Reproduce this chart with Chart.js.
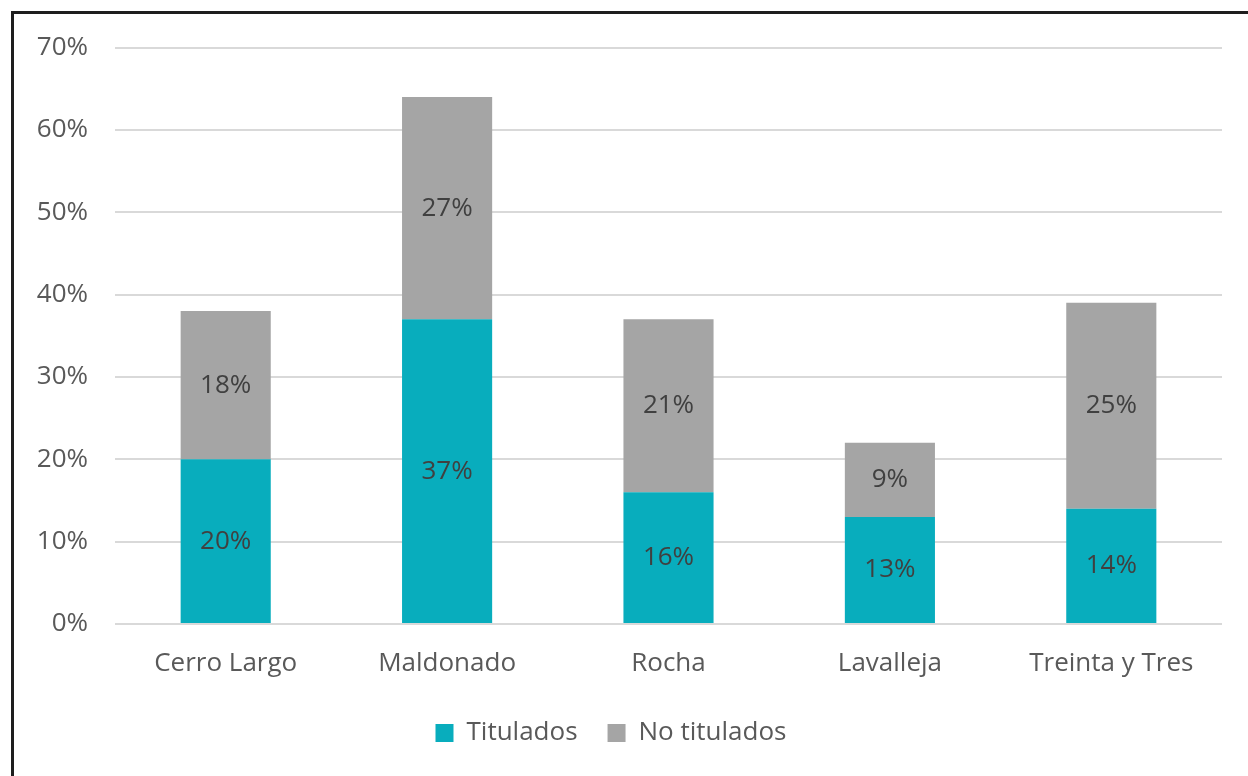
<!DOCTYPE html>
<html>
<head>
<meta charset="utf-8">
<script src="https://cdn.jsdelivr.net/npm/chart.js@4/dist/chart.umd.min.js"></script>
<style>
  html, body { margin: 0; padding: 0; background: #fff; overflow: hidden; }
  #wrap { position: relative; width: 1248px; height: 776px; }
  #frame { position: absolute; left: 11px; top: 11px; width: 1300px; height: 800px;
           border: 3px solid #1e1e1e; box-sizing: border-box; pointer-events: none; }
  canvas { position: absolute; left: 0; top: 5px; }
</style>
</head>
<body>
<div id="wrap">
  <canvas id="chart" width="1248" height="771"></canvas>
  <div id="frame"></div>
</div>
<script>
const categories = ['Cerro Largo', 'Maldonado', 'Rocha', 'Lavalleja', 'Treinta y Tres'];
const titulados = [20, 37, 16, 13, 14];
const noTitulados = [18, 27, 21, 9, 25];
const seriesNames = ['Titulados', 'No titulados'];

const FONT = '"Open Sans", sans-serif';

// Writes each segment's percentage in the middle of its bar piece
const segmentLabels = {
  id: 'segmentLabels',
  afterDatasetsDraw(chart) {
    const ctx = chart.ctx;
    ctx.save();
    ctx.font = '26px ' + FONT;
    ctx.fillStyle = '#404040';
    ctx.textAlign = 'center';
    ctx.textBaseline = 'middle';
    chart.data.datasets.forEach((ds, di) => {
      const meta = chart.getDatasetMeta(di);
      meta.data.forEach((bar, i) => {
        const y = (bar.y + bar.base) / 2;
        ctx.fillText(ds.data[i] + '%', bar.x, y);
      });
    });
    ctx.restore();
  }
};

new Chart(document.getElementById('chart'), {
  type: 'bar',
  data: {
    labels: categories,
    datasets: [
      { label: seriesNames[0], data: titulados, backgroundColor: '#08adbd' },
      { label: seriesNames[1], data: noTitulados, backgroundColor: '#a5a5a5' }
    ]
  },
  options: {
    responsive: false,
    animation: false,
    layout: { padding: { left: 0, right: 26, top: 41, bottom: 20 } },
    datasets: { bar: { barPercentage: 0.407, categoryPercentage: 1.0 } },
    plugins: {
      legend: {
        position: 'bottom',
        labels: {
          font: { family: FONT, size: 26 },
          color: '#595959',
          boxWidth: 18,
          boxHeight: 18,
          padding: 30
        }
      },
      tooltip: { enabled: false }
    },
    scales: {
      x: {
        stacked: true,
        grid: { display: false, drawTicks: false },
        border: { display: false },
        ticks: { font: { family: FONT, size: 26 }, color: '#595959', padding: 24 },
        afterFit(s) { s.height = 66; }
      },
      y: {
        stacked: true,
        min: 0,
        max: 70,
        grid: { color: '#d9d9d9', lineWidth: 2, drawTicks: false },
        border: { display: false },
        ticks: {
          stepSize: 10,
          font: { family: FONT, size: 26 },
          color: '#595959',
          padding: 27,
          callback: v => v + '%'
        },
        afterFit(s) { s.width = 115; }
      }
    }
  },
  plugins: [segmentLabels]
});
</script>
</body>
</html>
